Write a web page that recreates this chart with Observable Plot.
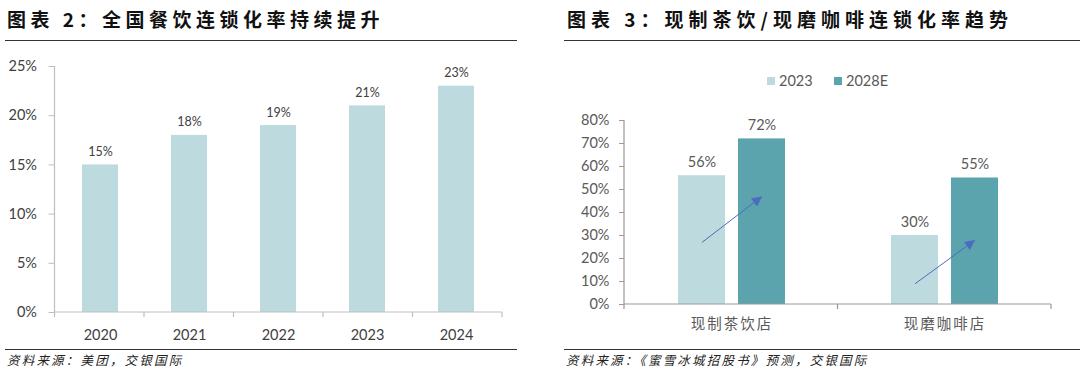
<!DOCTYPE html>
<html><head><meta charset="utf-8">
<script src="https://cdn.jsdelivr.net/npm/d3@7"></script>
<script src="https://cdn.jsdelivr.net/npm/@observablehq/plot@0.6"></script>
<style>
body{margin:0;background:#fff;}
#root{position:relative;width:1080px;height:375px;overflow:hidden;background:#fff;font-family:Lato,"Noto Sans CJK SC",sans-serif;}
.title{position:absolute;top:5px;font-family:"Noto Sans CJK SC";font-weight:700;font-size:19px;letter-spacing:4.5px;color:#111;white-space:nowrap;line-height:28px;}
.rule{position:absolute;height:0;border-top:1.5px solid #333;}
.source{position:absolute;top:351px;font-family:"Noto Sans CJK SC";font-style:italic;font-size:12.5px;letter-spacing:2.2px;color:#222;white-space:nowrap;line-height:18px;}
.chart{position:absolute;width:540px;}
.chart svg{position:absolute;left:0;top:0;max-width:none !important;}
.lg{position:absolute;font-family:Lato,sans-serif;font-size:14.5px;color:#595959;line-height:16px;}
.sw{position:absolute;width:8px;height:8px;}
</style>
</head><body>
<div id="root">
  <div class="title" style="left:7px">图表 2：全国餐饮连锁化率持续提升</div>
  <div class="rule" style="left:5px;width:512px;top:40px"></div>
  <div class="title" style="left:567px;letter-spacing:5px">图表 3：现制茶饮/现磨咖啡连锁化率趋势</div>
  <div class="rule" style="left:564px;width:516px;top:40px"></div>
  <div id="left" class="chart" style="left:0;top:50px;height:296px"></div>
  <div id="right" class="chart" style="left:540px;top:95px;height:245px"></div>
  <div id="legend"></div>
  <div class="rule" style="left:5px;width:512px;top:349px"></div>
  <div class="rule" style="left:564px;width:516px;top:349px"></div>
  <div class="source" style="left:7px">资料来源：美团，交银国际</div>
  <div class="source" style="left:566px">资料来源：《蜜雪冰城招股书》预测，交银国际</div>
</div>
<script>
// ---- Data: chart 2 ----
const years = ["2020","2021","2022","2023","2024"];
const nationalChainRate = [15,18,19,21,23];
const yTicksLeft = [0,5,10,15,20,25];

// ---- Data: chart 3 ----
const storeTypes = ["现制茶饮店","现磨咖啡店"];
const seriesNames = ["2023","2028E"];
const rate2023 = [56,30];
const rate2028E = [72,55];
const yTicksRight = [0,10,20,30,40,50,60,70,80];
const trendFrom = [27,9];
const trendTo = [47,28];

const lightColor = "#BDDBDF";
const darkColor = "#5BA3AD";
const arrowColor = "#4C6CBF";
const axisColor = "#BFBFBF";

const leftData = years.map((y,i)=>({year:y, value:nationalChainRate[i]}));
const rightData = [];
storeTypes.forEach((c,i)=>{
  rightData.push({cat:c, series:seriesNames[0], value:rate2023[i]});
  rightData.push({cat:c, series:seriesNames[1], value:rate2028E[i]});
});
const trendData = storeTypes.map((c,i)=>({cat:c, from:trendFrom[i], to:trendTo[i]}));

// ---- Left chart ----
const left = Plot.plot({
  width: 540, height: 296,
  marginLeft: 54.5, marginRight: 38, marginTop: 16, marginBottom: 34,
  style: {fontFamily: "Lato, sans-serif", background: "transparent"},
  x: {domain: years, paddingInner: 0.6, paddingOuter: 0.3, label: null},
  y: {domain: [0,25], label: null},
  marks: [
    Plot.barY(leftData, {x:"year", y:"value", fill: lightColor}),
    Plot.axisY({ticks: yTicksLeft, tickFormat: d => d + "%", tickSize: 6, tickPadding: 12, stroke: axisColor, fill: "#404040", fontSize: 14.5, label: null}),
    Plot.axisX({tickSize: 0, tickPadding: 17, fill: "#404040", fontSize: 14.5, label: null}),
    Plot.text(leftData, {x:"year", y:"value", text: d => d.value + "%", lineAnchor: "bottom", dy: -9, fill: "#404040", fontSize: 12.5})
  ]
});
document.getElementById("left").appendChild(left);

// ---- Right chart (shared geometry) ----
const rightDims = {width: 540, height: 245, marginLeft: 84, marginRight: 29, marginTop: 25, marginBottom: 36};
const rightFx = {domain: storeTypes, paddingInner: 0.49, paddingOuter: 0.245, label: null};
const rightY = {domain: [0,80], label: null};

const right = Plot.plot({
  ...rightDims,
  style: {fontFamily: "Lato, sans-serif", background: "transparent"},
  fx: {...rightFx, axis: null},
  x: {domain: seriesNames, paddingInner: 0.21, paddingOuter: 0, axis: null, label: null},
  y: {...rightY, axis: null},
  color: {domain: seriesNames, range: [lightColor, darkColor]},
  marks: [
    Plot.barY(rightData, {fx:"cat", x:"series", y:"value", fill:"series"}),
    Plot.axisFx({anchor: "bottom", tickSize: 0, tickPadding: 14, fill: "#595959", fontSize: 14.5, fontFamily: "Noto Sans CJK SC", label: null}),
    Plot.text(rightData, {fx:"cat", x:"series", y:"value", text: d => d.value + "%", lineAnchor: "bottom", dy: -9, fill: "#595959", fontSize: 14.5}),
    Plot.link(trendData, {fx:"cat", x1: () => seriesNames[0], x2: () => seriesNames[1], y1:"from", y2:"to", stroke: arrowColor, strokeWidth: 1})
  ]
});
// y axis for the right chart: same y scale & margins, not faceted
const rightAxis = Plot.plot({
  ...rightDims,
  style: {fontFamily: "Lato, sans-serif", background: "transparent"},
  x: {domain: storeTypes, axis: null},
  y: rightY,
  marks: [
    Plot.axisY({ticks: yTicksRight, tickFormat: d => d + "%", tickSize: 5, tickPadding: 10, stroke: "#999", fill: "#595959", fontSize: 14.5, label: null})
  ]
});
document.getElementById("right").appendChild(rightAxis);
document.getElementById("right").appendChild(right);

// spaced category labels like the reference
d3.select(right).selectAll("text").filter(function(){ return storeTypes.includes(this.textContent); }).style("letter-spacing", "2px");

// ---- Axis lines and category boundary ticks (from the charts' own scales) ----
function drawFrameAxes(svgEl, xKey, color) {
  const xs = svgEl.scale(xKey);
  const ys = svgEl.scale("y");
  const [r0, r1] = xs.range;
  const y0 = ys.apply(0), yTop = ys.apply(ys.domain[1]);
  const g = d3.select(svgEl).append("g").attr("stroke", color).attr("stroke-width", 1.2);
  g.append("line").attr("x1", r0).attr("x2", r0).attr("y1", yTop).attr("y2", y0);
  g.append("line").attr("x1", r0).attr("x2", r1).attr("y1", y0).attr("y2", y0);
  const n = xs.domain.length;
  for (let i = 0; i <= n; i++) {
    const x = r0 + i * (r1 - r0) / n;
    g.append("line").attr("x1", x).attr("x2", x).attr("y1", y0).attr("y2", y0 + 5);
  }
}
drawFrameAxes(left, "x", axisColor);
drawFrameAxes(right, "fx", "#999");

// ---- Filled arrowheads on the trend links ----
const defs = d3.select(right).append("defs");
defs.append("marker").attr("id","tri").attr("viewBox","0 0 10 10")
  .attr("refX",10).attr("refY",5).attr("markerWidth",11).attr("markerHeight",10)
  .attr("markerUnits","userSpaceOnUse").attr("orient","auto")
  .append("path").attr("d","M0,0L10,5L0,10Z").attr("fill", arrowColor);
d3.select(right).selectAll("g[aria-label=link] path").attr("marker-end","url(#tri)");

// ---- Legend ----
const legend = document.getElementById("legend");
const legendX = [767, 834];
seriesNames.forEach((s,i)=>{
  const sw = document.createElement("div");
  sw.className = "sw";
  sw.style.left = legendX[i] + "px"; sw.style.top = "77px";
  sw.style.background = i === 0 ? lightColor : darkColor;
  legend.appendChild(sw);
  const t = document.createElement("div");
  t.className = "lg"; t.textContent = s;
  t.style.left = (legendX[i] + 12) + "px"; t.style.top = "73px";
  legend.appendChild(t);
});
</script>
</body></html>
